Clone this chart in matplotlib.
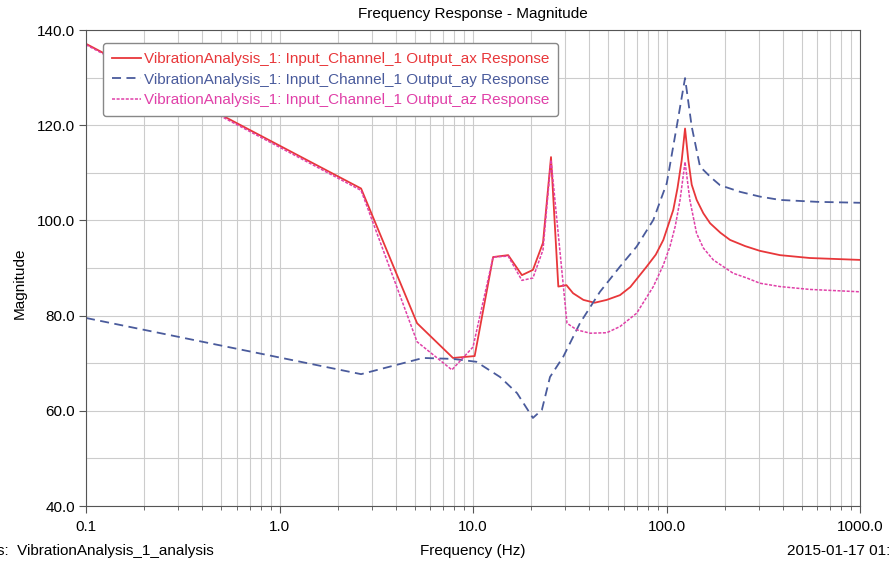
import matplotlib
matplotlib.use("Agg")
import matplotlib.pyplot as plt
from matplotlib.ticker import FixedLocator, FixedFormatter, LogLocator, NullFormatter, MultipleLocator

plt.rcParams['font.family'] = ['Liberation Sans', 'DejaVu Sans']

freq_ax = [0.1, 2.64, 5.14, 7.88, 10.2, 12.7, 15.2, 17.9, 20.4, 23.0, 25.3, 27.6, 30.4, 32.9,
           37.2, 42.5, 49.1, 57.5, 65.0, 79.0, 88.0, 96.3, 108.4, 114.0, 119.9, 124.7,
           129.6, 135.0, 143.2, 155.0, 168, 190, 213, 255, 304, 386, 550, 1000]
mag_ax = [137.1, 106.7, 78.4, 71.1, 71.5, 92.3, 92.7, 88.5, 89.6, 95.3, 113.3, 86.1, 86.4, 84.7,
          83.3, 82.7, 83.3, 84.3, 86.0, 90.3, 92.8, 95.9, 102.2, 106.8, 112.7, 119.3,
          112.7, 107.5, 104.3, 101.5, 99.4, 97.4, 95.9, 94.6, 93.6, 92.7, 92.1, 91.7]

freq_ay = [0.1, 2.64, 5.52, 7.88, 10.4, 13.8, 16.9, 20.4, 22.7, 25.0, 29.3, 35.7, 45.3, 57.5,
           70.1, 85.5, 100.3, 112.9, 124.7, 135, 149, 170, 189, 240, 304, 386, 600, 1000]
mag_ay = [79.5, 67.7, 71.1, 70.9, 70.3, 67.1, 63.7, 58.5, 60.2, 67.1, 71.4, 78.4, 85.0, 90.3,
          94.5, 100.1, 107.8, 119.7, 129.9, 119.7, 111.3, 109.0, 107.4, 106.0, 105.0, 104.3,
          103.9, 103.7]

freq_az = [0.1, 2.64, 5.14, 7.78, 10.0, 12.7, 15.2, 17.9, 20.4, 23.0, 25.3, 30.6, 34.4, 40.3,
           49.1, 57.5, 70.1, 85.5, 96.0, 104.2, 111.0, 117.5, 124.7, 132, 143, 155, 174.5,
           221, 260, 304, 386, 550, 1000]
mag_az = [136.9, 106.3, 74.5, 68.6, 73.4, 92.3, 92.5, 87.4, 87.9, 93.8, 112.7, 78.4, 77.0, 76.3,
          76.4, 77.7, 80.5, 86.1, 90.5, 94.5, 98.8, 104.3, 112.3, 104.3, 97.3, 94.2, 91.7,
          88.9, 87.9, 86.8, 86.1, 85.5, 85.0]

labels = ["VibrationAnalysis_1: Input_Channel_1 Output_ax Response",
          "VibrationAnalysis_1: Input_Channel_1 Output_ay Response",
          "VibrationAnalysis_1: Input_Channel_1 Output_az Response"]
x_ticks = [0.1, 1.0, 10.0, 100.0, 1000.0]
x_tick_labels = ["0.1", "1.0", "10.0", "100.0", "1000.0"]
y_ticks = [40, 60, 80, 100, 120, 140]
y_tick_labels = ["40.0", "60.0", "80.0", "100.0", "120.0", "140.0"]

c_red = "#e8373a"
c_blue = "#4a5b9c"
c_mag = "#e040a8"

fig = plt.figure(figsize=(8.9, 5.67), dpi=100)
ax = fig.add_axes([86/890, 61/567, 774/890, 476/567])

ax.plot(freq_ax, mag_ax, color=c_red, lw=1.3, ls='-', label=labels[0])
ax.plot(freq_ay, mag_ay, color=c_blue, lw=1.3, ls=(0, (5, 3)), label=labels[1])
ax.plot(freq_az, mag_az, color=c_mag, lw=1.1, ls=(0, (2, 1)), label=labels[2])

ax.set_xscale('log')
ax.set_xlim(0.1, 1000)
ax.set_ylim(40, 140)
ax.xaxis.set_major_locator(FixedLocator(x_ticks))
ax.xaxis.set_major_formatter(FixedFormatter(x_tick_labels))
ax.xaxis.set_minor_locator(LogLocator(base=10, subs=range(2, 10)))
ax.xaxis.set_minor_formatter(NullFormatter())
ax.yaxis.set_major_locator(FixedLocator(y_ticks))
ax.yaxis.set_major_formatter(FixedFormatter(y_tick_labels))
ax.yaxis.set_minor_locator(MultipleLocator(10))

ax.grid(True, which='both', color='#cccccc', lw=0.8)
ax.set_axisbelow(True)
for s in ax.spines.values():
    s.set_color('#555555')
    s.set_linewidth(0.8)
ax.tick_params(axis='both', which='major', labelsize=11, length=5, color='#555555', pad=3)
ax.tick_params(axis='x', which='major', pad=5)
ax.tick_params(axis='both', which='minor', length=3, color='#555555')
ax.tick_params(axis='y', which='minor', length=0)

leg = ax.legend(loc='upper left', bbox_to_anchor=(0.022, 0.9727), fontsize=11, frameon=True,
                handlelength=1.9, handletextpad=0.15, borderpad=0.6, labelspacing=0.42,
                borderaxespad=0.0, fancybox=True, edgecolor='#888888', framealpha=1)
for txt, col in zip(leg.get_texts(), [c_red, c_blue, c_mag]):
    txt.set_color(col)

fig.text(473/890, 1 - 14/567, "Frequency Response - Magnitude", ha='center', va='center', fontsize=11)
fig.text(20/890, 0.5, "Magnitude", rotation=90, ha='center', va='center', fontsize=11)
fig.text(473/890, 16/567, "Frequency (Hz)", ha='center', va='center', fontsize=11)
fig.text(-3/890, 16/567, "s:  VibrationAnalysis_1_analysis", ha='left', va='center', fontsize=11)
fig.text(787/890, 16/567, "2015-01-17 01:03", ha='left', va='center', fontsize=11)

fig.savefig("out.png", dpi=100)
